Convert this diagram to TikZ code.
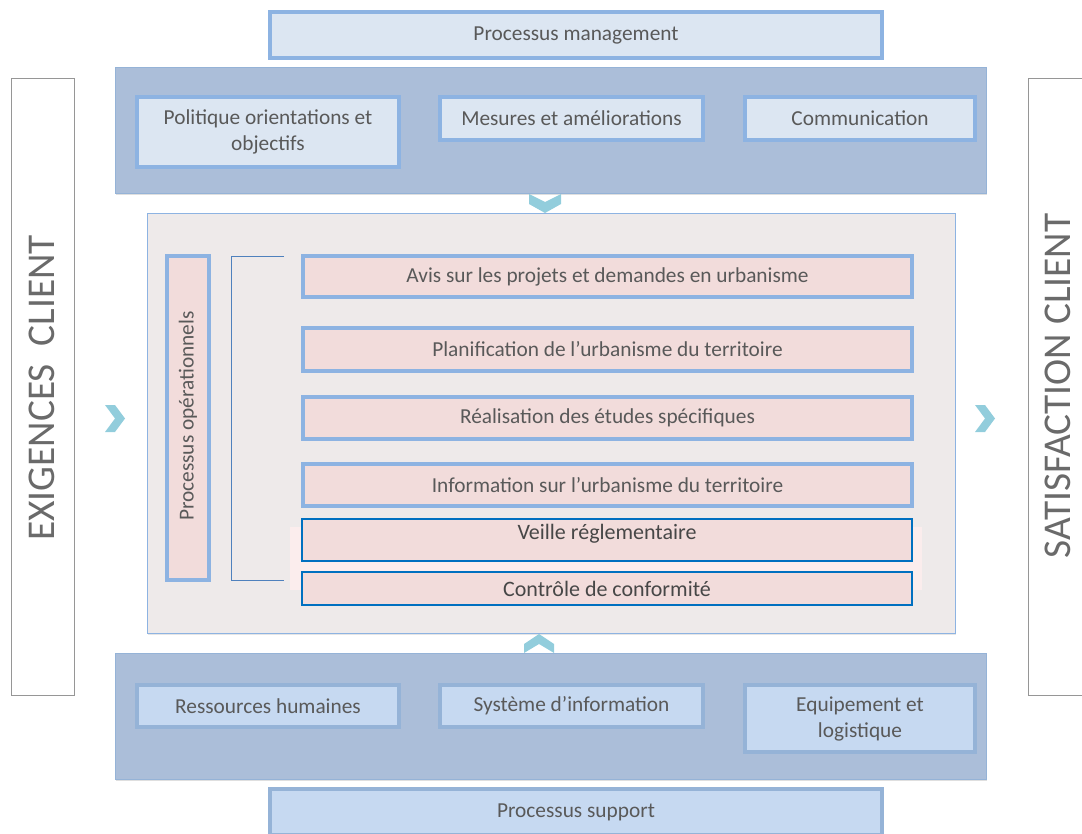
\documentclass[tikz,border=0pt]{standalone}
\usepackage{fontspec}
\setmainfont{Carlito}
\usetikzlibrary{positioning,shadows}
\definecolor{bandfill}{RGB}{171,190,217}
\definecolor{bandline}{RGB}{149,179,215}
\definecolor{mgmtfill}{RGB}{220,230,242}
\definecolor{mgmtline}{RGB}{141,179,226}
\definecolor{suppfill}{RGB}{198,217,241}
\definecolor{panelfill}{RGB}{238,234,234}
\definecolor{pinki}{RGB}{242,220,219}
\definecolor{pinkii}{RGB}{251,237,237}
\definecolor{darkblue}{RGB}{0,112,192}
\definecolor{bracketblue}{RGB}{79,129,189}
\definecolor{chevron}{RGB}{146,205,220}
\definecolor{textgrey}{RGB}{89,89,89}
\definecolor{sidegrey}{RGB}{150,150,150}
\tikzset{
      boxsize/.style 2 args={
        minimum width=#1*0.75pt,
        minimum height=#2*0.75pt
      },
      mybandblock/.style={
        fill=bandfill,
        draw=bandline,
        line width=0.6pt,
        drop shadow={shadow xshift=0.6pt,shadow yshift=-1.2pt,opacity=0.25}
      },
      myinblock/.style 2 args={
        fill=#1,
        draw=#2,
        line width=2.8pt,
        inner sep=2pt,
        align=center,
        text=textgrey,
        font=\fontsize{16}{19.5}\selectfont
      },
      mytitleblock/.style 2 args={
        fill=#1,
        draw=#2,
        line width=3.6pt,
        align=center,
        text=textgrey,
        font=\fontsize{16}{19.5}\selectfont,
        drop shadow={shadow xshift=0.6pt,shadow yshift=-1.2pt,opacity=0.25}
      },
      mypinkblock/.style={
        fill=pinki,
        draw=mgmtline,
        line width=2.8pt,
        text=textgrey,
        font=\fontsize{16}{19.5}\selectfont
      },
      myreglblock/.style={
        fill=pinki,
        draw=darkblue,
        line width=1.2pt,
        text=textgrey!80!black,
        font=\fontsize{16.5}{19.5}\selectfont
      },
      mysideblock/.style={
        draw=sidegrey,
        line width=0.6pt,
        fill=white,
        text=textgrey!90!white,
        font=\fontsize{29.5}{34}\selectfont
      },
      mychevron/.style={
        fill=chevron,
        draw=none
      },
    }
\begin{document}
\begin{tikzpicture}[x=0.75pt,y=-0.75pt]
          \useasboundingbox (0,0) rectangle (1082,834);

          \node[mysideblock,boxsize={63}{617}]
            (exig) at (42.5,386.5)
            {};
          \node[rotate=90,text=textgrey!90!white,font=\fontsize{29.5}{34}\selectfont]
            (exigtxt) at (42,388)
            {EXIGENCES\ \ CLIENT};
          \node[mysideblock,boxsize={64}{617}]
            (satis) at (1060,386.5)
            {};
          \node[rotate=90,text=textgrey!90!white,font=\fontsize{29.5}{34}\selectfont]
            (satistxt) at (1058,386)
            {SATISFACTION CLIENT};

          \node[mytitleblock={mgmtfill}{mgmtline},boxsize={612}{46}]
            (mgmt) at (576,35)
            {Processus management};
          \node[mybandblock,boxsize={871}{126}]
            (mgmtband) at (550.5,130)
            {};
          \node[myinblock={mgmtfill}{mgmtline},boxsize={262}{70}]
            (polit) at (268,132)
            {Politique orientations et\\objectifs};
          \node[myinblock={mgmtfill}{mgmtline},boxsize={263}{43}]
            (mesures) at (571.5,118.5)
            {Mesures et améliorations};
          \node[myinblock={mgmtfill}{mgmtline},boxsize={230}{43}]
            (comm) at (860,118.5)
            {Communication};

          \fill[mychevron] (529,194) -- (545,202) -- (561,194) -- (561,204)
            -- (545,213) -- (529,204) -- cycle;

          \node[fill=panelfill,draw=mgmtline,line width=0.6pt,boxsize={808}{420},
            drop shadow={shadow xshift=0.6pt,shadow yshift=-1.2pt,opacity=0.2}]
            (panel) at (551,423)
            {};
          \node[mypinkblock,line width=3.6pt,boxsize={42}{324},
            drop shadow={shadow xshift=0.6pt,shadow yshift=-1.5pt,opacity=0.3}]
            (procop) at (188,418)
            {};
          \node[rotate=90,text=textgrey,font=\fontsize{16}{19}\selectfont]
            (procoptxt) at (188,416)
            {Processus opérationnels};
          \coordinate (brtop) at (284,256);
          \coordinate (brbot) at (284,580);
          \draw[bracketblue,line width=0.6pt] (brtop) -- ++(-53,0) |- (brbot);

          \node[mypinkblock,boxsize={609}{41}]
            (avis) at (607.5,276.5)
            {Avis sur les projets et demandes en urbanisme};
          \node[mypinkblock,boxsize={609}{43}]
            (planif) at (607.5,349.5)
            {Planification de l’urbanisme du territoire};
          \node[mypinkblock,boxsize={609}{42}]
            (realis) at (607.5,418)
            {Réalisation des études spécifiques};
          \node[mypinkblock,boxsize={609}{42}]
            (inform) at (607.5,485)
            {Information sur l’urbanisme du territoire};
          \node[fill=pinkii,boxsize={632}{63}]
            (reglback) at (606,558.5)
            {};
          \node[myreglblock,boxsize={610}{42},text height=11pt,text depth=12pt]
            (veille) at (607,540)
            {Veille réglementaire};
          \node[myreglblock,boxsize={610}{33}]
            (controle) at (607,588.5)
            {Contrôle de conformité};

          \fill[mychevron] (105,405) -- (115,405) -- (125,418.5) -- (115,432)
            -- (105,432) -- (115,418.5) -- cycle;
          \fill[mychevron] (975,405) -- (985,405) -- (995,418.5) -- (985,432)
            -- (975,432) -- (985,418.5) -- cycle;

          \fill[mychevron] (524,644) -- (539,634) -- (554,644) -- (554,653)
            -- (539,644) -- (524,653) -- cycle;

          \node[mybandblock,boxsize={871}{126}]
            (suppband) at (550.5,716)
            {};
          \node[myinblock={suppfill}{bandline},boxsize={262}{42}]
            (ressources) at (268,706)
            {Ressources humaines};
          \node[myinblock={suppfill}{bandline},boxsize={263}{42}]
            (systeme) at (571.5,706)
            {Système d’information};
          \node[myinblock={suppfill}{bandline},boxsize={230}{67}]
            (equip) at (860,718.5)
            {Equipement et\\logistique};
          \node[mytitleblock={suppfill}{bandline},boxsize={612}{46}]
            (support) at (576,812)
            {Processus support};
        \end{tikzpicture}
\end{document}
